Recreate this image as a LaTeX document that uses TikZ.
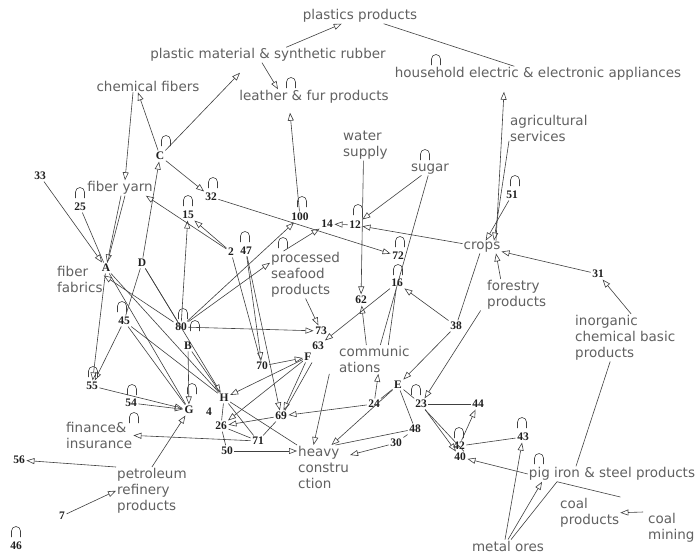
\documentclass[tikz,border=0pt]{standalone}
\usepackage{fontspec}
\setmainfont{DejaVu Sans}
\newfontfamily\numfam{Liberation Serif}
\usetikzlibrary{arrows.meta}
\newcommand\lblfont{\fontsize{13.5}{16}\selectfont}
\newcommand\numfont{\numfam\bfseries\fontsize{11.5}{12}\selectfont}
\newcommand\lp[2]{\draw[ln] (#1,#2) ++(-4.5,0) -- ++(0,-6) arc[start angle=180,end angle=360,radius=4.5] -- ++(0,6);}
\tikzset{
 lbl/.style={font=\lblfont, text=black!62, inner sep=1pt, align=left},
 mlb/.style={lbl, anchor=north west},
 num/.style={font=\numfont, text=black!88, inner sep=1.5pt},
 ed/.style={draw=black!75, line width=0.6pt, -{Triangle[open,length=8pt,width=6pt]}},
 ln/.style={draw=black!75, line width=0.6pt},
}
\begin{document}
\begin{tikzpicture}[x=1pt,y=-1pt]
\fill[white] (0,0) rectangle (700,557);
\useasboundingbox (0,0) rectangle (700,557);
% text labels
\node[lbl] (pp) at (360,16) {plastics products};
\node[lbl] (pm) at (268,55) {plastic material \& synthetic rubber};
\node[lbl] (he) at (538,74) {household electric \& electronic appliances};
\node[lbl] (cf) at (148,86) {chemical fibers};
\node[lbl] (lf) at (314,97) {leather \& fur products};
\node[mlb] (as) at (509,114) {agricultural\\services};
\node[mlb] (ws) at (342,130) {water\\supply};
\node[lbl] (su) at (430,169) {sugar};
\node[lbl] (fy) at (120,188) {fiber yarn};
\node[lbl] (cr) at (482,247) {crops};
\node[mlb] (psp) at (270,251) {processed\\seafood\\products};
\node[mlb] (ff) at (56,265) {fiber\\fabrics};
\node[mlb] (fp) at (486,279) {forestry\\products};
\node[mlb] (icb) at (574,314) {inorganic\\chemical basic\\products};
\node[mlb] (com) at (338,345) {communic\\ations};
\node[mlb] (fi) at (65,421) {finance\&\\insurance};
\node[mlb] (hc) at (297,445) {heavy\\constru\\ction};
\node[lbl] (pis) at (612,474) {pig iron \& steel products};
\node[mlb] (prp) at (116,467) {petroleum\\refinery\\products};
\node[mlb] (cp) at (559,497) {coal\\products};
\node[mlb] (cm) at (647,512) {coal\\mining};
\node[lbl] (mo) at (508,546) {metal ores};
% number / letter nodes
\node[num] (nC) at (160,156) {C};
\node[num] (n33) at (40,176) {33};
\node[num] (n25) at (80,207) {25};
\node[num] (n32) at (211,197) {32};
\node[num] (n15) at (188,215) {15};
\node[num] (n100) at (300,217) {100};
\node[num] (n14) at (327,224) {14};
\node[num] (n12) at (355,225) {12};
\node[num] (n51) at (512,195) {51};
\node[num] (n2) at (231,252) {2};
\node[num] (n47) at (246,251) {47};
\node[num] (n72) at (398,256) {72};
\node[num] (n16) at (397,283) {16};
\node[num] (nA) at (106,268) {A};
\node[num] (nD) at (142,263) {D};
\node[num] (n62) at (361,300) {62};
\node[num] (n38) at (456,326) {38};
\node[num] (n31) at (598,274) {31};
\node[num] (n45) at (124,321) {45};
\node[num] (n80) at (181,327) {80};
\node[num] (nB) at (188,346) {B};
\node[num] (n73) at (321,331) {73};
\node[num] (n63) at (318,346) {63};
\node[num] (nF) at (308,357) {F};
\node[num] (n70) at (262,366) {70};
\node[num] (n55) at (92,386) {55};
\node[num] (n54) at (131,403) {54};
\node[num] (nG) at (189,410) {G};
\node[num] (nH) at (224,398) {H};
\node[num] (n4) at (209,412) {4};
\node[num] (nE) at (398,385) {E};
\node[num] (n24) at (374,404) {24};
\node[num] (n23) at (421,404) {23};
\node[num] (n44) at (478,404) {44};
\node[num] (n69) at (281,416) {69};
\node[num] (n26) at (221,426) {26};
\node[num] (n48) at (415,429) {48};
\node[num] (n43) at (523,437) {43};
\node[num] (n42) at (459,446) {42};
\node[num] (n40) at (460,457) {40};
\node[num] (n71) at (258,441) {71};
\node[num] (n30) at (396,443) {30};
\node[num] (n50) at (227,451) {50};
\node[num] (n56) at (19,460) {56};
\node[num] (n7) at (62,516) {7};
\node[num] (n46) at (16,546) {46};
% self loops
\foreach \a/\b in {80/198,213/188,188/206,302/207,358/215,515/186,245/242,400/247,398/275,122/312,183/319,195/331,93/377,132/395,522/428,459/438,291/88,166/146,436/65,425/160,134/423,539/464,16/537,416/395,283/248,192/394} {\lp{\a}{\b}}
% connectors
\draw[ed] (pm) -- (pp);
\draw[ln] (pp) -- (he);
\draw[ed] (nC) -- ([xshift=-28pt,yshift=-10pt]pm.south);
\draw[ed] ([xshift=-6pt]pm.south) -- ([xshift=-36pt]lf.north);
\draw[ed] (nC) -- ([xshift=-10pt]cf.south);
\draw[ed] ([xshift=-15pt]cf.south) -- ([xshift=5pt]fy.north);
\draw[ed] (nD) -- (nC);
\draw[ed] (nC) -- (n32);
\draw[ed] (n33) -- (nA);
\draw[ln] (n25) -- (nA);
\draw[ed] ([xshift=1pt]fy.south) -- (nA);
\draw[ln] ([xshift=5pt]fy.south) -- (nA);
\draw[ed] (n2) -- ([xshift=-8pt]fy.south east);
\draw[ed] (n32) -- (n72);
\draw[ed] (n2) -- (n15);
\draw[ed] (n80) -- (n15);
\draw[ed] (n100) -- ([xshift=-24pt,yshift=-8pt]lf.south);
\draw[ed] (n80) -- (n100);
\draw[ed] (n80) -- ([yshift=12pt]psp.west);
\draw[ed] ([xshift=-22pt]psp.north) -- (n14);
\draw[ed] (n12) -- (n14);
\draw[ed] (su) -- (n12);
\draw[ed] (cr) -- (n12);
\draw[ed] ([xshift=-2pt]ws.south) -- (n62);
\draw[ln] (su) -- ([xshift=6pt]com.north);
\draw[ed] ([xshift=-8pt]com.north) -- (n62);
\draw[ed] (n16) -- (n63);
\draw[ln] (n16) -- ([xshift=14pt]com.north);
\draw[ed] (n38) -- (n16);
\draw[ln] (n38) -- (cr);
\draw[ed] (n38) -- (nE);
\draw[ed] ([xshift=-16pt]fp.north) -- ([xshift=14pt]cr.south);
\draw[ed] ([xshift=-36pt]fp.south) -- (n23);
\draw[ed] (n31) -- (cr);
\draw[ed] ([xshift=6pt]icb.north) -- (n31);
\draw[ln] ([xshift=-15pt]icb.south) -- ([xshift=-36pt]pis.north);
\draw[ed] (n51) -- (cr);
\draw[ed] ([xshift=14pt]cr.north) -- ([xshift=-34pt,yshift=-10pt]he.south);
\draw[ed] ([yshift=2pt]as.south west) -- ([xshift=12pt]cr.north);
\draw[ed] (psp.south) -- (n73);
\draw[ed] (n80) -- (n73);
\draw[ed] (n24) -- (n69);
\draw[ed] ([xshift=-45pt]com.south) -- ([xshift=-10pt]hc.north);
\draw[ed] (nE) -- ([xshift=8pt]hc.north);
\draw[ln] (n48) -- ([xshift=12pt]hc.north);
\draw[ed] (n30) -- ([yshift=-10pt]hc.north east);
\draw[ed] (n50) -- ([yshift=-6pt]hc.north west);
\draw[ed] (n71) -- (fi.east);
\draw[ed] (prp.north) -- (nG);
\draw[ed] (n7) -- (prp.west);
\draw[ed] (prp.north west) -- (n56);
\draw[ed] (n45) -- (n55);
\draw[ed] (nA) -- (n55);
\draw[ln] (n45) -- (nH);
\draw[ln] (n45) -- (nG);
\draw[ed] (n55) -- (nG);
\draw[ed] (n54) -- (nG);
\draw[ed] (nD) -- (nH);
\draw[ln] (nD) -- (n45);
\draw[ln] (nD) -- (n80);
\draw[ed] (nF) -- (nH);
\draw[ed] (n70) -- (nF);
\draw[ed] (n47) -- (n70);
\draw[ln] (n2) -- (n70);
\draw[ed] (n47) -- (n69);
\draw[ed] (nF) -- (n69);
\draw[ln] ([xshift=4pt]nF.south) -- ([xshift=4pt]n69.north);
\draw[ed] (nF) -- (n26);
\draw[ed] (n69) -- (n26);
\draw[ln] (n71) -- (nH);
\draw[ln] (n26) -- (n71);
\draw[ln] (n69) -- (n71);
\draw[ln] (nH) -- (hc.north west);
\draw[ed] (nB) -- (nG);
\draw[ln] (nB) -- (nH);
\draw[ed] (n80) -- ([yshift=4pt]ff.east);
\draw[ln] (nA) -- (nH);
\draw[ln] (nA) -- (nG);
\draw[ln] (nH) -- (n26);
\draw[ln] (n50) -- (n26);
\draw[ed] (n24) -- ([xshift=4pt]com.south);
\draw[ln] (nE) -- (n24);
\draw[ln] (n23) -- (n44);
\draw[ed] (n42) -- (n44);
\draw[ln] (n42) -- (n43);
\draw[ed] (n23) -- (n40);
\draw[ln] ([xshift=4pt]n23.south) -- ([xshift=4pt]n40.north);
\draw[ed] (pis.west) -- (n40);
\draw[ed] ([xshift=-3pt]mo.north) -- (n43);
\draw[ed] (mo.north) -- ([xshift=-70pt]pis.south);
\draw[ln] ([xshift=3pt]mo.north) -- ([xshift=-55pt]pis.south);
\draw[ln] (cp.north east) -- ([xshift=-55pt]pis.south);
\draw[ed] ([xshift=-4pt]cm.north west) -- (cp.east);
\draw[ln] (nE) -- (n48);
\draw[ln] (nE) -- (n23);
\draw[ln] (n48) -- (n30);
\end{tikzpicture}
\end{document}
